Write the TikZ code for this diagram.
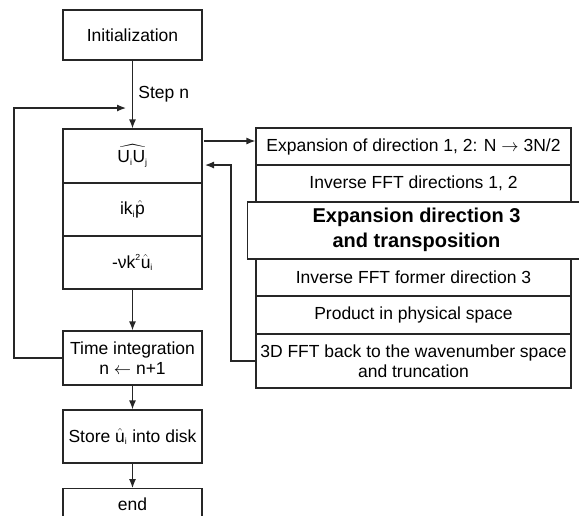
\documentclass[tikz,border=0pt]{standalone}
\usepackage{amsmath}
\usepackage{fontspec}
\setmainfont{Liberation Sans}
\usetikzlibrary{arrows.meta}
\newcommand{\smallsub}[1]{_{\scriptscriptstyle\text{#1}}}
\tikzset{
  box/.style={draw=black!85, line width=1.2pt, inner sep=0pt, align=center, font=\fontsize{17.5}{20}\selectfont},
  conn/.style={draw=black!85, line width=1.2pt},
  arr/.style={conn, -{Latex[length=9pt,width=7pt]}},
}
\begin{document}
\begin{tikzpicture}[x=1pt,y=-1pt]
\useasboundingbox (0,0) rectangle (579,515);
\clip (0,0) rectangle (579,515);
% left column
\node[box, minimum width=139pt, minimum height=50pt] (init) at (132.5,35) {Initialization};
\node[box, minimum width=139pt, minimum height=54pt] (uu) at (132.5,156) {$\widehat{\text{U}\smallsub{i}\text{U}\smallsub{j}}$};
\node[box, minimum width=139pt, minimum height=53pt] (ikp) at (132.5,209.5) {$\text{ik}\smallsub{i}\hat{\text{p}}$};
\node[box, minimum width=139pt, minimum height=53pt] (nu) at (132.5,262.5) {$\text{-νk}^{\scriptscriptstyle\text{2}}\hat{\text{u}}\smallsub{i}$};
\node[box, minimum width=139pt, minimum height=54pt] (time) at (132.5,358) {Time integration\\n $\leftarrow$ n+1};
\node[box, minimum width=139pt, minimum height=53pt] (store) at (132.5,436.5) {Store $\hat{\text{u}}\smallsub{i}$ into disk};
\node[box, minimum width=139pt, minimum height=54pt, anchor=north] (end) at (132.5,488) {};
\node[font=\fontsize{17.5}{20}\selectfont] (endt) at (132.5,504) {end};
% right column
\node[box, minimum width=315pt, minimum height=37pt] (r1) at (413.5,146.5) {Expansion of direction 1, 2: N $\rightarrow$ 3N/2};
\node[box, minimum width=315pt, minimum height=37pt] (r2) at (413.5,183.5) {Inverse FFT directions 1, 2};
\node[box, minimum width=350pt, minimum height=57pt, anchor=west] (r3) at (247,230.5) {};
\node[font=\fontsize{20}{25}\selectfont\bfseries, align=center] (r3t) at (416.5,230) {Expansion direction 3\\and transposition};
\node[box, minimum width=315pt, minimum height=37pt] (r4) at (413.5,277.5) {Inverse FFT former direction 3};
\node[box, minimum width=315pt, minimum height=38pt] (r5) at (413.5,315) {Product in physical space};
\node[box, minimum width=315pt, minimum height=54pt] (r6) at (413.5,361) {3D FFT back to the wavenumber space\\and truncation};
% connectors
\draw[arr] (init.south) -- node[right, font=\fontsize{17.5}{20}\selectfont, xshift=2pt] {Step n} (uu.north);
\draw[arr] (nu.south) -- (time.north);
\draw[arr] (time.south) -- (store.north);
\draw[arr] (store.south) -- (end.north);
\coordinate (loopend) at (126,108);
\draw[arr] (time.west) -- (14,358) -- (14,108) -- (loopend);
\coordinate (outstart) at (204,141);
\draw[arr] (outstart) -- (r1.west |- outstart);
\coordinate (backend) at (205,165);
\draw[arr] (r6.west) -- (231,361) -- (231,165) -- (backend);
\end{tikzpicture}
\end{document}
